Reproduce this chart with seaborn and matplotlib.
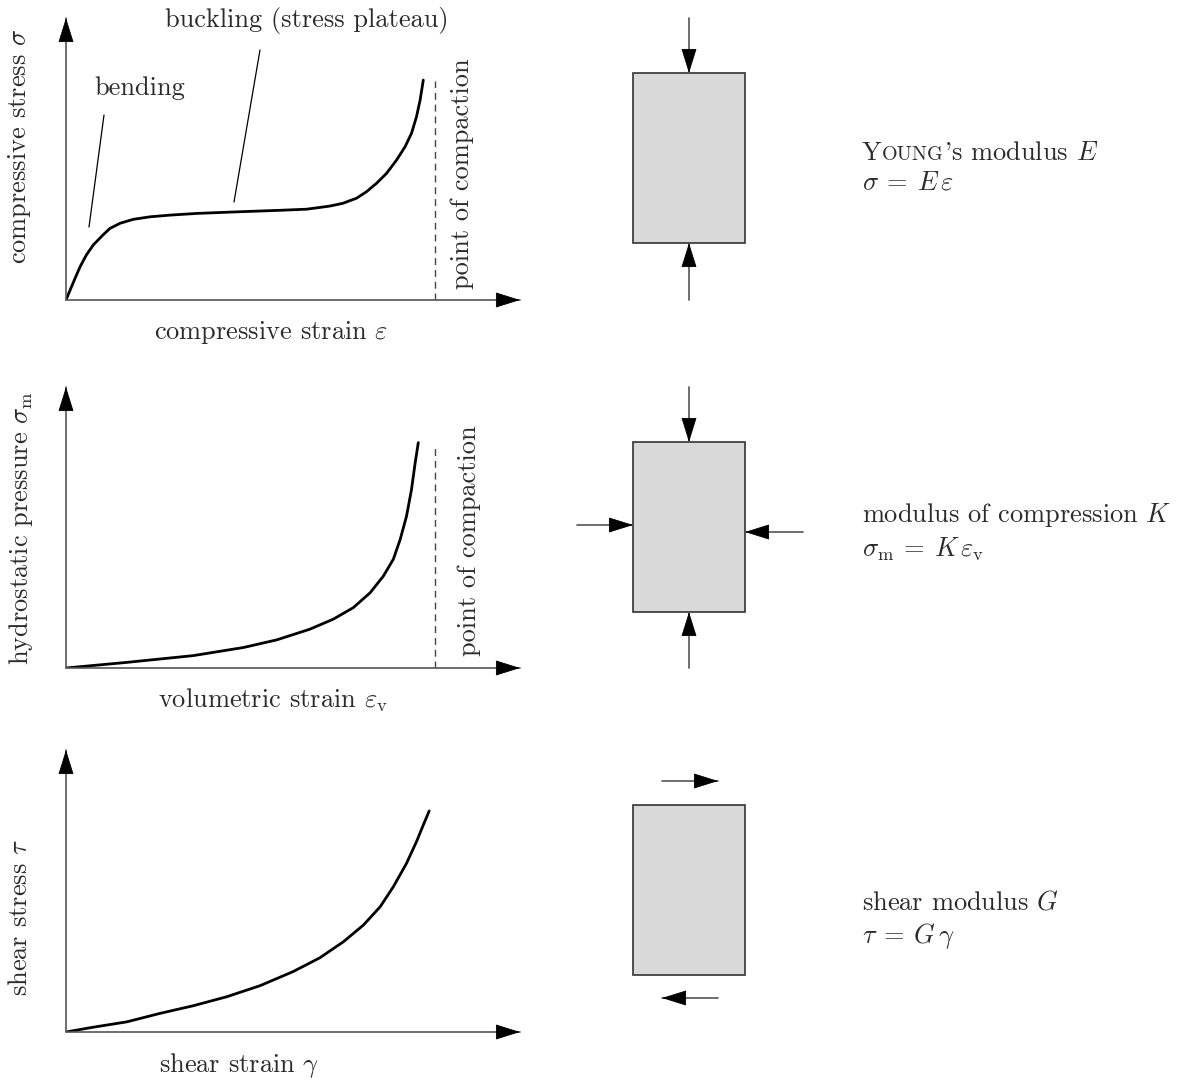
import numpy as np
import pandas as pd
import seaborn as sns
import matplotlib.pyplot as plt
from matplotlib.patches import Rectangle

sns.set_style("white")
plt.rcParams['font.family'] = ['cmr10', 'DejaVu Serif']
plt.rcParams['mathtext.fontset'] = 'cm'
plt.rcParams['axes.unicode_minus'] = False

# normalised curves (strain, stress)
comp_strain = [0, 0.009, 0.020, 0.031, 0.045, 0.060, 0.081, 0.097, 0.119, 0.148, 0.185,
               0.229, 0.288, 0.383, 0.470, 0.530, 0.581, 0.610, 0.640, 0.662, 0.684,
               0.706, 0.728, 0.747, 0.761, 0.772, 0.780, 0.787]
comp_stress = [0, 0.035, 0.077, 0.118, 0.160, 0.195, 0.230, 0.254, 0.272, 0.286, 0.295,
               0.301, 0.307, 0.313, 0.318, 0.322, 0.333, 0.343, 0.361, 0.384, 0.414,
               0.449, 0.496, 0.544, 0.591, 0.650, 0.709, 0.780]

vol_strain = [0, 0.134, 0.280, 0.391, 0.464, 0.537, 0.589, 0.633, 0.670, 0.699, 0.721,
              0.736, 0.750, 0.761, 0.769, 0.776]
vol_pressure = [0, 0.020, 0.044, 0.073, 0.100, 0.138, 0.174, 0.215, 0.268, 0.327, 0.387,
                0.457, 0.540, 0.635, 0.729, 0.802]

shear_strain = [0, 0.060, 0.134, 0.207, 0.280, 0.354, 0.427, 0.500, 0.559, 0.611, 0.655,
                0.692, 0.721, 0.750, 0.772, 0.787, 0.800]
shear_stress = [0, 0.017, 0.036, 0.066, 0.093, 0.125, 0.164, 0.214, 0.263, 0.320, 0.379,
                0.444, 0.515, 0.598, 0.675, 0.734, 0.784]

# point of compaction (strain, height of dashed line)
compaction = [(0.813, 0.776), (0.813, 0.783), None]

W, H = 1184, 1082
TXT = '#2b2b2b'
FS = 19

fig = plt.figure(figsize=(W / 100, H / 100), dpi=100)

# overlay in pixel coordinates for labels and the schematic blocks
ov = fig.add_axes([0, 0, 1, 1])
ov.set_xlim(0, W)
ov.set_ylim(H, 0)
ov.axis('off')

rows = [(300, 18), (668, 387), (1032, 750)]
curves = [(comp_strain, comp_stress), (vol_strain, vol_pressure), (shear_strain, shear_stress)]

shaft_kw = dict(arrowstyle='-', color='#555555', lw=1.2, shrinkA=0, shrinkB=0)
head_kw = dict(arrowstyle='-|>,head_length=1.6,head_width=0.5', mutation_scale=10,
               color='black', lw=0.6, shrinkA=0, shrinkB=0)


def axis_arrow(ax, tip, back):
    ax.annotate('', xy=tip, xytext=(0, 0), xycoords='axes fraction',
                arrowprops=shaft_kw, annotation_clip=False)
    ax.annotate('', xy=tip, xycoords='axes fraction', xytext=back,
                textcoords='offset pixels', arrowprops=head_kw, annotation_clip=False)


for (yb, yt), (xs, ys), comp in zip(rows, curves, compaction):
    ax = fig.add_axes([66 / W, 1 - yb / H, 454 / W, (yb - yt) / H])
    ax.set_xlim(0, 1)
    ax.set_ylim(0, 1)
    ax.axis('off')
    axis_arrow(ax, (1, 0), (-23, 0))
    axis_arrow(ax, (0, 1), (0, -23))
    df = pd.DataFrame({'strain': xs, 'stress': ys})
    sns.lineplot(data=df, x='strain', y='stress', ax=ax, color='black', lw=2,
                 sort=False, estimator=None)
    if comp is not None:
        ax.plot([comp[0], comp[0]], [0, comp[1]], color='#444444', lw=1,
                ls=(0, (5, 3.5)))

# axis labels
lab = dict(fontsize=FS, color=TXT, ha='center', va='center')
ov.text(20, 146, r'compressive stress $\sigma$', rotation=90, **lab)
ov.text(271, 333, r'compressive strain $\varepsilon$', **lab)
ov.text(462, 174, 'point of compaction', rotation=90, **lab)
ov.text(140, 88, 'bending', **lab)
ov.text(307, 20, 'buckling (stress plateau)', **lab)
ov.plot([104, 89], [115, 227], color='black', lw=0.9)
ov.plot([260, 234], [50, 202], color='black', lw=0.9)

ov.text(21, 528, r'hydrostatic pressure $\sigma_\mathrm{m}$', rotation=90, **lab)
ov.text(273, 700, r'volumetric strain $\varepsilon_\mathrm{v}$', **lab)
ov.text(469, 541, 'point of compaction', rotation=90, **lab)

ov.text(20, 918, r'shear stress $\tau$', rotation=90, **lab)
ov.text(239, 1066, r'shear strain $\gamma$', **lab)

# schematic blocks
for top in (73, 442, 805):
    ov.add_patch(Rectangle((633, top), 112, 170, fc='#d9d9d9', ec='#333333', lw=1.2))


def arrow(x0, y0, x1, y1):
    ov.annotate('', xy=(x1, y1), xytext=(x0, y0), arrowprops=shaft_kw)
    d = np.hypot(x1 - x0, y1 - y0)
    back = (-(x1 - x0) / d * 23, (y1 - y0) / d * 23)
    ov.annotate('', xy=(x1, y1), xytext=back, textcoords='offset pixels',
                arrowprops=head_kw)


arrow(689, 18, 689, 73)
arrow(689, 300, 689, 243)
arrow(689, 387, 689, 442)
arrow(689, 668, 689, 612)
arrow(577, 525, 633, 525)
arrow(803, 532, 745, 532)
arrow(662, 781, 718, 781)
arrow(718, 998, 662, 998)

# moduli descriptions; YOUNG in small caps
r = fig.canvas.get_renderer()
x = 862
for s, fs in (('Y', FS), ('OUNG', 14.5), (r"'s modulus $E$", FS)):
    t = ov.text(x, 160, s, fontsize=fs, color=TXT, va='baseline')
    x += t.get_window_extent(r).width
eq = dict(fontsize=FS, color=TXT, va='center')
ov.text(862, 183, r'$\sigma\:=\:E\,\varepsilon$', **eq)

ov.text(862, 515, r'modulus of compression $K$', **eq)
ov.text(862, 549, r'$\sigma_\mathrm{m}\:=\:K\,\varepsilon_\mathrm{v}$', **eq)

ov.text(862, 902, r'shear modulus $G$', **eq)
ov.text(862, 936, r'$\tau\:=\:G\,\gamma$', **eq)

fig.savefig('out.png', dpi=100)
